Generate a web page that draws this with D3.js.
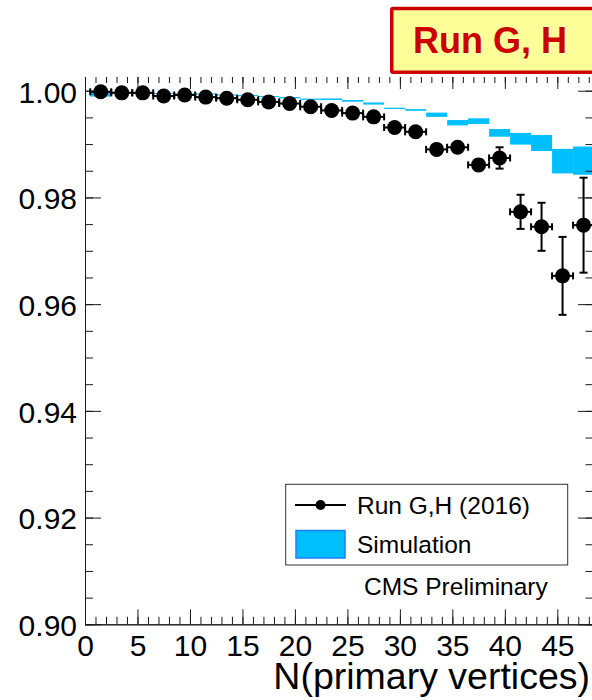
<!DOCTYPE html>
<html>
<head>
<meta charset="utf-8">
<script src="https://cdn.jsdelivr.net/npm/d3@7"></script>
<style>
  html, body { margin: 0; padding: 0; background: #fff; }
  svg { display: block; font-family: "Liberation Sans", Arial, Helvetica, sans-serif; }
</style>
</head>
<body>
<svg id="chart" width="592" height="700"></svg>
<script>
// Efficiency versus number of primary vertices, 2-wide bins
const nvtxBins = [1.5, 3.5, 5.5, 7.5, 9.5, 11.5, 13.5, 15.5, 17.5, 19.5, 21.5, 23.5,
                  25.5, 27.5, 29.5, 31.5, 33.5, 35.5, 37.5, 39.5, 41.5, 43.5, 45.5, 47.5];
const binHalfWidth = 1;

// Run G,H (2016) data
const dataEff = [0.9998, 0.9996, 0.9996, 0.9990, 0.9992, 0.9988, 0.9986, 0.9983, 0.9979, 0.9976, 0.9970, 0.9963,
                 0.9958, 0.9951, 0.9931, 0.9923, 0.9890, 0.9894, 0.9861, 0.9874, 0.9773, 0.9745, 0.9653, 0.9748];
const dataErr = [0.0001, 0.0001, 0.0001, 0.0001, 0.0001, 0.0001, 0.0001, 0.0001, 0.0001, 0.0002, 0.0002, 0.0002,
                 0.0003, 0.0003, 0.0004, 0.0005, 0.0006, 0.0008, 0.0010, 0.0020, 0.0032, 0.0045, 0.0073, 0.0089];

// Simulation band: central value and half-height
const simEff = [0.9994, 0.9997, 0.9996, 0.9995, 0.9994, 0.9994, 0.9992, 0.9991, 0.9989, 0.9987, 0.9984, 0.9984,
                0.9981, 0.9976, 0.9967, 0.9964, 0.9955, 0.9940, 0.9943, 0.9921, 0.9910, 0.9902, 0.9868, 0.9869];
const simErr = [0.0005, 0.0001, 0.0001, 0.0001, 0.0001, 0.0001, 0.0001, 0.0001, 0.0001, 0.00012, 0.00012, 0.00015,
                0.00016, 0.0002, 0.00012, 0.00016, 0.0004, 0.0005, 0.00053, 0.00072, 0.0011, 0.0015, 0.0023, 0.00265];

// Axis ticks
const xMajorTicks = [0, 5, 10, 15, 20, 25, 30, 35, 40, 45];
const xMinorTicks = d3.range(0, 49, 1);
const yMajorTicks = [0.90, 0.92, 0.94, 0.96, 0.98, 1.00];
const yMinorTicks = d3.range(0, 21).map(i => 0.90 + i * 0.005);

const legendLabels = ["Run G,H (2016)", "Simulation"];
const runLabel = "Run G, H";
const xTitle = "N(primary vertices)";
const cmsLabel = "CMS Preliminary";

const simColor = "#00bfff";
const axisColor = "#1a1a1a";
const tickFont = 30;

const svg = d3.select("#chart");
const frame = { left: 85, right: 593, top: 77, bottom: 624.3 };

const x = d3.scaleLinear().domain([0, 48.4]).range([frame.left, frame.right]);
const y = d3.scaleLinear().domain([0.90, 1.00257]).range([frame.bottom, frame.top]);

const rows = nvtxBins.map((c, i) => ({ c, eff: dataEff[i], err: dataErr[i], sim: simEff[i], simErr: simErr[i] }));

// Simulation band
svg.append("g").selectAll("rect")
  .data(rows)
  .join("rect")
  .attr("x", d => x(d.c - binHalfWidth))
  .attr("width", d => x(d.c + binHalfWidth) - x(d.c - binHalfWidth))
  .attr("y", d => y(d.sim + d.simErr))
  .attr("height", d => Math.max(1, y(d.sim - d.simErr) - y(d.sim + d.simErr)))
  .attr("fill", simColor);

// Axes
function styleAxis(g, fontSize) {
  g.selectAll("line").attr("stroke", axisColor).attr("stroke-width", 1);
  g.selectAll("path.domain").attr("stroke", axisColor).attr("stroke-width", 1);
  g.selectAll("text").attr("fill", "#000").style("font-size", fontSize + "px");
  g.attr("font-family", null).attr("font-size", null);
}

// bottom
svg.append("g").attr("transform", `translate(0,${frame.bottom})`)
  .call(d3.axisBottom(x).tickValues(xMinorTicks).tickSizeInner(-7.5).tickSizeOuter(0).tickFormat(""))
  .call(g => styleAxis(g, tickFont));
svg.append("g").attr("transform", `translate(0,${frame.bottom})`)
  .call(d3.axisBottom(x).tickValues(xMajorTicks).tickSizeInner(-15).tickSizeOuter(0).tickPadding(10).tickFormat(d3.format("d")))
  .call(g => styleAxis(g, tickFont));

// top (ticks only)
svg.append("g").attr("transform", `translate(0,${frame.top})`)
  .call(d3.axisBottom(x).tickValues(xMinorTicks).tickSizeInner(6).tickSizeOuter(0).tickFormat(""))
  .call(g => { styleAxis(g, tickFont); g.select("path.domain").remove(); });
svg.append("g").attr("transform", `translate(0,${frame.top})`)
  .call(d3.axisBottom(x).tickValues(xMajorTicks).tickSizeInner(12).tickSizeOuter(0).tickFormat(""))
  .call(g => { styleAxis(g, tickFont); g.select("path.domain").remove(); });

// left
svg.append("g").attr("transform", `translate(${frame.left},0)`)
  .call(d3.axisLeft(y).tickValues(yMinorTicks).tickSizeInner(-8).tickSizeOuter(0).tickFormat(""))
  .call(g => styleAxis(g, tickFont));
svg.append("g").attr("transform", `translate(${frame.left},0)`)
  .call(d3.axisLeft(y).tickValues(yMajorTicks).tickSizeInner(-16).tickSizeOuter(0).tickPadding(8).tickFormat(d3.format(".2f")))
  .call(g => { styleAxis(g, tickFont); g.selectAll("text").attr("dy", "0.38em"); });

// right
svg.append("g").attr("transform", `translate(${frame.right},0)`)
  .call(d3.axisRight(y).tickValues(yMinorTicks).tickSizeInner(-7.5).tickSizeOuter(0).tickFormat(""))
  .call(g => styleAxis(g, tickFont));
svg.append("g").attr("transform", `translate(${frame.right},0)`)
  .call(d3.axisRight(y).tickValues(yMajorTicks).tickSizeInner(-15).tickSizeOuter(0).tickFormat(""))
  .call(g => styleAxis(g, tickFont));

// Data points with error bars
const pts = svg.append("g").attr("stroke", "#000").attr("stroke-width", 2);
const capH = 3.5, capV = 4;
rows.forEach(d => {
  const cx = x(d.c), cy = y(d.eff);
  const x0 = x(d.c - binHalfWidth), x1 = x(d.c + binHalfWidth);
  const y0 = y(d.eff + d.err), y1 = y(d.eff - d.err);
  pts.append("line").attr("x1", x0).attr("x2", x1).attr("y1", cy).attr("y2", cy);
  pts.append("line").attr("x1", x0).attr("x2", x0).attr("y1", cy - capH).attr("y2", cy + capH);
  pts.append("line").attr("x1", x1).attr("x2", x1).attr("y1", cy - capH).attr("y2", cy + capH);
  pts.append("line").attr("x1", cx).attr("x2", cx).attr("y1", y0).attr("y2", y1);
  pts.append("line").attr("x1", cx - capV).attr("x2", cx + capV).attr("y1", y0).attr("y2", y0);
  pts.append("line").attr("x1", cx - capV).attr("x2", cx + capV).attr("y1", y1).attr("y2", y1);
});
svg.append("g").selectAll("circle")
  .data(rows)
  .join("circle")
  .attr("cx", d => x(d.c))
  .attr("cy", d => y(d.eff))
  .attr("r", 7.5)
  .attr("fill", "#000");

// Legend
const lg = svg.append("g");
lg.append("rect").attr("x", 285.7).attr("y", 484.3).attr("width", 282).attr("height", 80.7)
  .attr("fill", "#fff").attr("stroke", "#333").attr("stroke-width", 1);
lg.append("line").attr("x1", 295).attr("x2", 346).attr("y1", 505).attr("y2", 505)
  .attr("stroke", "#000").attr("stroke-width", 2);
lg.append("circle").attr("cx", 320.5).attr("cy", 505).attr("r", 5).attr("fill", "#000");
lg.append("text").attr("x", 357).attr("y", 513.5).style("font-size", "24.5px").text(legendLabels[0]);
lg.append("rect").attr("x", 296).attr("y", 530.5).attr("width", 49).attr("height", 27.5)
  .attr("fill", simColor).attr("stroke", "#1a80ff").attr("stroke-width", 1.5);
lg.append("text").attr("x", 357).attr("y", 552.7).style("font-size", "24.5px").text(legendLabels[1]);

svg.append("text").attr("x", 364).attr("y", 595).style("font-size", "24.5px").text(cmsLabel);

// Axis title
svg.append("text").attr("x", 590).attr("y", 689).attr("text-anchor", "end")
  .style("font-size", "37.5px").text(xTitle);

// Run label box
svg.append("rect").attr("x", 391.75).attr("y", 8.5).attr("width", 220).attr("height", 63.75)
  .attr("fill", "#ffff99").attr("stroke", "#cc0000").attr("stroke-width", 3.5).attr("rx", 1.5);
svg.append("text").attr("x", 413).attr("y", 53).attr("fill", "#cc0000")
  .style("font-size", "36px").style("font-weight", "bold").text(runLabel);
</script>
</body>
</html>
